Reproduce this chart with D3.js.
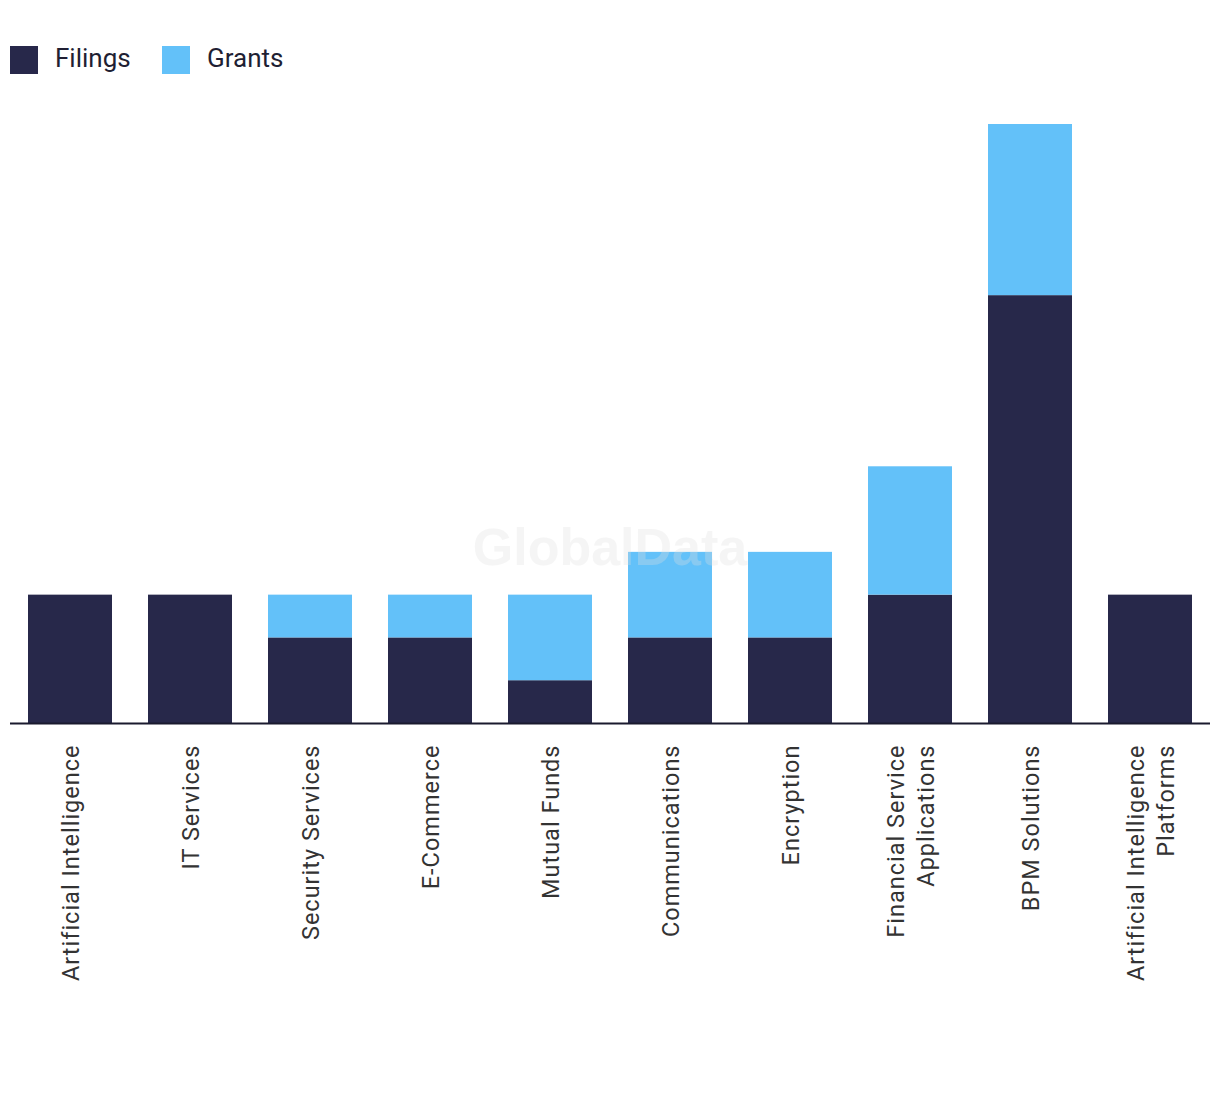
<!DOCTYPE html>
<html><head><meta charset="utf-8">
<script src="https://cdn.jsdelivr.net/npm/d3@7"></script>
<style>body{margin:0;background:#fff}svg{display:block}</style>
</head><body>
<svg id="chart" width="1220" height="1094"></svg>
<script>
const categories = ["Artificial Intelligence","IT Services","Security Services","E-Commerce","Mutual Funds","Communications","Encryption","Financial Service Applications","BPM Solutions","Artificial Intelligence Platforms"];
const labelLines = [["Artificial Intelligence"],["IT Services"],["Security Services"],["E-Commerce"],["Mutual Funds"],["Communications"],["Encryption"],["Financial Service","Applications"],["BPM Solutions"],["Artificial Intelligence","Platforms"]];
const filings = [3,3,2,2,1,2,2,3,10,3];
const grants  = [0,0,1,1,2,2,2,3,4,0];
const seriesNames = ["Filings","Grants"];
const colors = ["#27284a","#63c1f9"];

const svg = d3.select("#chart");
const left = 10, right = 1210, baseY = 723, topY = 124;
const x = d3.scaleBand().domain(categories).range([left,right]).paddingInner(0.3).paddingOuter(0.15);
const y = d3.scaleLinear().domain([0,14]).range([baseY, topY]);

const rows = categories.map((c,i)=>({cat:c, Filings:filings[i], Grants:grants[i]}));
const stacked = d3.stack().keys(seriesNames)(rows);

svg.append("g").selectAll("g").data(stacked).join("g")
  .attr("fill",(d,i)=>colors[i])
  .selectAll("rect").data(d=>d).join("rect")
  .attr("x",d=>x(d.data.cat)).attr("width",x.bandwidth())
  .attr("y",d=>y(d[1])).attr("height",d=>y(d[0])-y(d[1]));

// axis line
svg.append("line").attr("x1",left).attr("x2",right).attr("y1",baseY+0.5).attr("y2",baseY+0.5)
  .attr("stroke","#1a1a2e").attr("stroke-width",2);

// labels
const lg = svg.append("g");
categories.forEach((c,i)=>{
  const lines = labelLines[i];
  const cx = x(c) + x.bandwidth()/2;
  lines.forEach((ln,j)=>{
    const off = (j - (lines.length-1)/2) * 30;
    lg.append("text")
      .attr("transform",`translate(${cx+off+8.5},744.5) rotate(-90)`)
      .attr("text-anchor","end")
      .attr("font-family","Roboto, sans-serif")
      .attr("font-size",23.5).attr("letter-spacing",1).attr("fill","#333")
      .text(ln);
  });
});

// legend
const leg = svg.append("g");
const legX = [10,162];
seriesNames.forEach((s,i)=>{
  leg.append("rect").attr("x",legX[i]).attr("y",46).attr("width",28).attr("height",28).attr("fill",colors[i]);
  leg.append("text").attr("x",legX[i]+45).attr("y",67).attr("font-family","Roboto, sans-serif")
    .attr("font-size",26).attr("fill","#1f1f33").text(s);
});

// watermark
svg.append("text").attr("x",610).attr("y",565).attr("text-anchor","middle")
  .attr("font-family","Liberation Sans, Arial, sans-serif").attr("font-weight","bold")
  .attr("font-size",52).attr("fill","#e0e0e0").attr("opacity",0.3).text("GlobalData");
</script>
</body></html>
